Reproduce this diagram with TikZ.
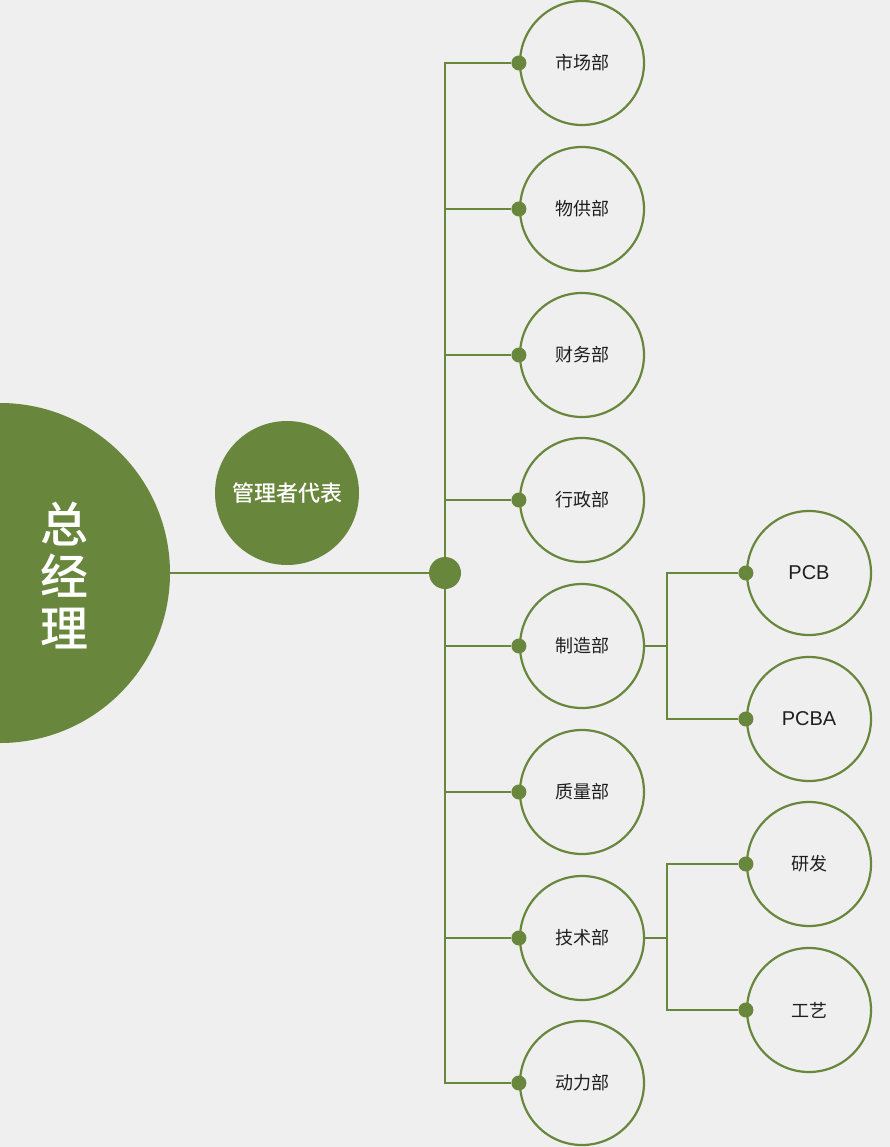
\documentclass[tikz,border=0pt]{standalone}
\usepackage{fontspec}
\setmainfont{Noto Sans CJK SC}[BoldFont = * Bold]
\newfontfamily\midfont{Noto Sans CJK SC}[UprightFont = * Medium]
\newfontfamily\latinfont{Liberation Sans}
\usepackage{tikz}
\usetikzlibrary{calc}
\definecolor{leaf}{HTML}{68873C}
\definecolor{paper}{HTML}{EFEFEF}

\begin{document}
\begin{tikzpicture}[x=1pt,y=-1pt]
\tikzset{
	big node/.style = {circle, fill = leaf, inner sep = 0, minimum size = 340},
	rep node/.style = {circle, fill = leaf, inner sep = 0, minimum size = 144,
		text = white, font = \midfont\fontsize{22}{24}\selectfont},
	hub node/.style = {circle, fill = leaf, inner sep = 0, minimum size = 32},
	dot node/.style = {circle, fill = leaf, inner sep = 0, minimum size = 15},
	dept node/.style = {circle, draw = leaf, line width = 2.2, inner sep = 0,
		minimum size = 124, text = black!88, font = \fontsize{18}{20}\selectfont},
	link/.style = {draw = leaf, line width = 2},
}

\fill[paper] (0,0) rectangle (890,1147);
\useasboundingbox (0,0) rectangle (890,1147);

\node(0)[big node] at (0,573){};
\node(gm)[text = white, align = center, font = \midfont\fontsize{48}{52}\selectfont]
	at (64,575){总\\经\\理};
\node(rep)[rep node] at (287,493){管理者代表};
\node(hub)[hub node] at (445,573){};
\draw[link] (0) -- (hub);

\foreach \name/\y [count=\i] in {市场部/63, 物供部/209, 财务部/355, 行政部/500,
	制造部/646, 质量部/792, 技术部/938, 动力部/1083}
{
	\node(d-\i)[dept node] at (582,\y){\name};
	\node(p-\i)[dot node] at (d-\i.west){};
	\draw[link] (hub) |- (p-\i);
}

\foreach \name/\y/\from [count=\i] in {{\latinfont\fontsize{20}{24}\selectfont PCB}/573/5,
	{\latinfont\fontsize{20}{24}\selectfont PCBA}/719/5, 研发/864/7, 工艺/1010/7}
{
	\node(s-\i)[dept node] at (809,\y){\name};
	\node(q-\i)[dot node] at (s-\i.west){};
	\draw[link] (d-\from.east) -- ++(22,0) |- (q-\i);
}

\end{tikzpicture}
\end{document}
